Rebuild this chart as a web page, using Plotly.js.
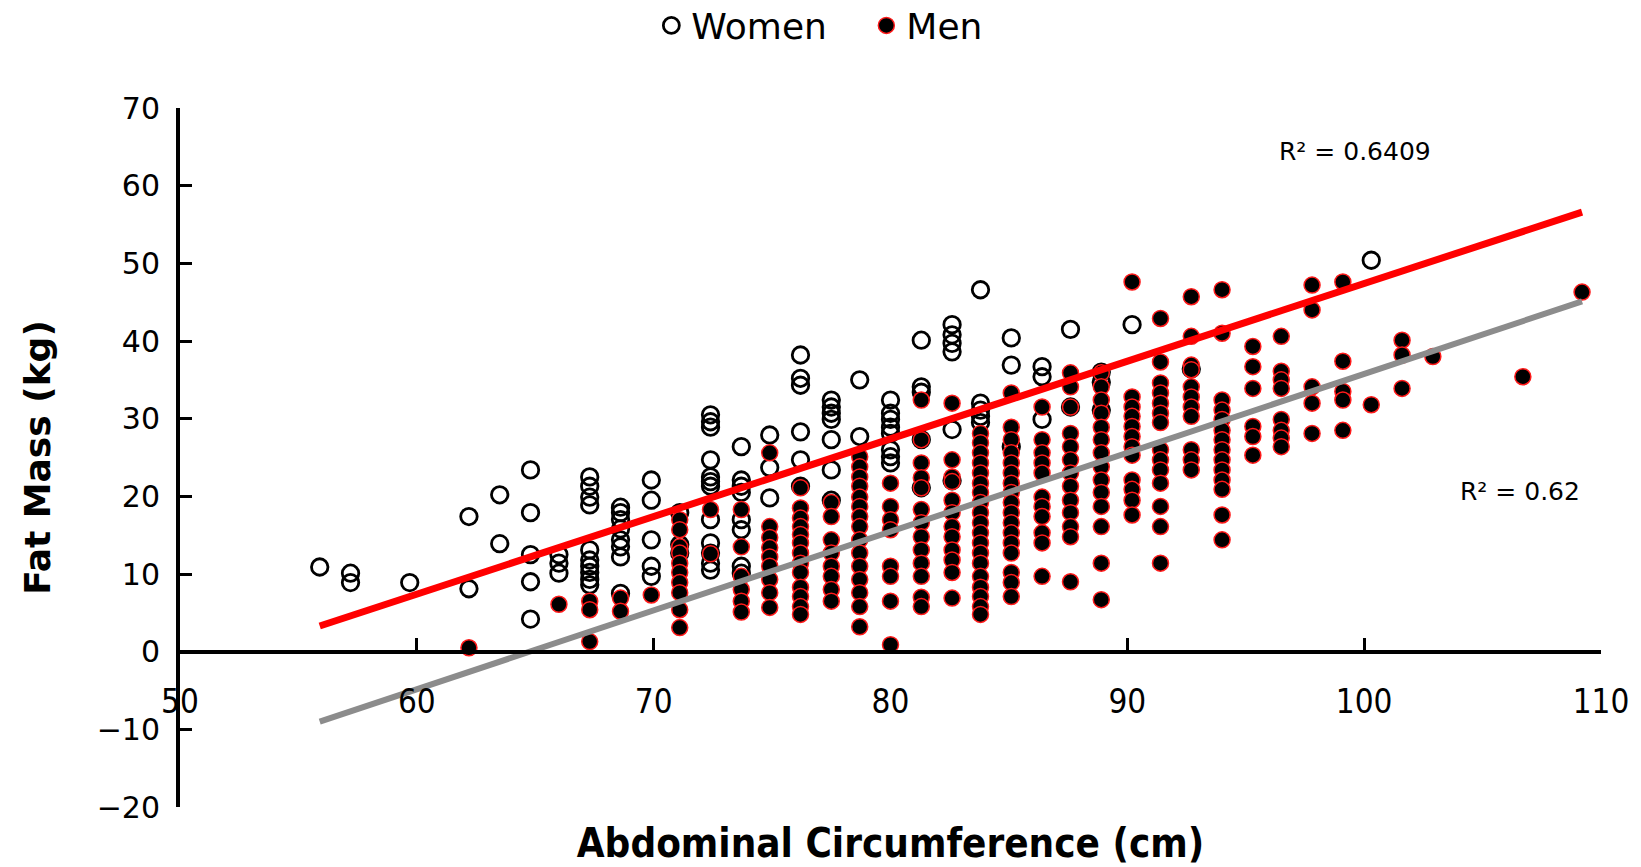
<!DOCTYPE html>
<html>
<head>
<meta charset="utf-8">
<script src="https://cdn.plot.ly/plotly-3.0.1.min.js"></script>
<style>
  html, body { margin: 0; padding: 0; background: #ffffff; }
  #chart { width: 1641px; height: 867px; }
</style>
</head>
<body>
<div id="chart"></div>
<script>
// Waist columns (cm) and fat mass readings (kg) for each column
const womenWaist = [55.9, 57.2, 59.7, 62.2, 63.5, 64.8, 66.0, 67.3, 68.6, 69.9, 71.1, 72.4, 73.7, 74.9,
  76.2, 77.5, 78.7, 80.0, 81.3, 82.6, 83.8, 85.1, 86.4, 87.6, 88.9, 90.2, 92.7, 100.3];
const womenFat = [
  [10.9],
  [10.1, 8.9],
  [8.9],
  [17.4, 8.1],
  [20.2, 13.9],
  [23.4, 17.9, 12.5, 9.0, 4.2],
  [12.5, 11.4, 10.1],
  [22.5, 21.3, 19.9, 18.9, 13.1, 11.8, 11.0, 10.2, 9.3, 8.6],
  [18.6, 17.9, 17.0, 15.8, 14.4, 13.5, 12.2, 7.5],
  [22.1, 19.5, 14.4, 11.0, 9.7],
  [17.9, 13.8, 12.7],
  [30.5, 29.6, 28.9, 24.7, 22.5, 21.9, 21.3, 17.0, 14.0, 12.7, 11.4, 10.5],
  [26.4, 22.1, 21.3, 20.5, 17.0, 15.7, 11.0, 10.1],
  [27.9, 23.7, 19.8],
  [38.2, 35.2, 34.3, 28.3, 24.7, 21.3],
  [32.4, 31.5, 30.7, 29.9, 27.3, 23.4, 19.5],
  [35.0, 27.7],
  [32.4, 30.7, 29.9, 28.9, 28.1, 26.0, 25.1, 24.3],
  [40.1, 34.1, 33.4, 27.3, 21.1],
  [42.1, 40.8, 39.7, 38.6, 28.6, 22.0],
  [46.6, 32.0, 31.1, 30.3, 29.5],
  [40.4, 36.9, 26.4],
  [36.7, 35.4, 29.9],
  [41.5, 31.5],
  [36.0, 34.7, 31.1],
  [42.1],
  [36.4],
  [50.4]
];

const menWaist = [62.2, 66.0, 67.3, 68.6, 69.9, 71.1, 72.4, 73.7, 74.9, 76.2, 77.5, 78.7, 80.0, 81.3,
  82.6, 83.8, 85.1, 86.4, 87.6, 88.9, 90.2, 91.4, 92.7, 94.0, 95.3, 96.5, 97.8, 99.1, 100.3,
  101.6, 102.9, 106.7, 109.2];
const menFat = [
  [0.5],
  [6.1],
  [6.5, 5.4, 1.3],
  [6.9, 5.2],
  [7.3],
  [17.0, 15.7, 13.5, 12.7, 11.4, 10.2, 8.9, 7.6, 5.4, 3.1],
  [18.3, 12.6],
  [18.3, 13.5, 9.7, 8.0, 6.5, 5.1],
  [25.6, 16.1, 14.7, 13.4, 12.2, 11.0, 9.3, 7.6, 5.7],
  [21.1, 18.5, 17.2, 16.1, 15.1, 14.0, 12.7, 11.4, 10.2, 8.3, 7.1, 5.8, 4.8],
  [19.2, 17.4, 14.4, 12.7, 11.0, 9.7, 8.0, 6.5],
  [25.1, 23.8, 22.5, 21.3, 19.9, 18.7, 17.4, 16.1, 14.4, 12.7, 11.0, 9.3, 7.6, 5.8, 3.2],
  [21.7, 18.7, 17.0, 15.7, 11.0, 9.7, 6.5, 0.9],
  [32.4, 27.3, 24.3, 22.4, 21.1, 18.3, 16.6, 14.8, 13.1, 11.4, 9.7, 7.0, 5.8],
  [32.0, 24.7, 22.5, 21.9, 19.5, 17.9, 16.1, 14.8, 13.1, 11.8, 10.2, 6.9],
  [28.1, 26.9, 25.6, 24.3, 23.0, 21.7, 20.5, 19.2, 17.9, 16.6, 15.3, 14.0, 12.7, 11.4, 9.7, 8.3, 7.1, 5.8, 4.8],
  [33.3, 28.9, 27.3, 25.6, 24.3, 23.0, 21.7, 20.5, 19.2, 17.9, 16.6, 15.3, 14.0, 12.7, 10.2, 8.9, 7.1],
  [31.5, 27.3, 25.6, 24.3, 23.0, 19.9, 18.7, 17.4, 15.3, 14.0, 9.7],
  [35.9, 34.1, 31.5, 28.1, 26.4, 24.7, 23.0, 21.3, 19.5, 17.9, 16.1, 14.8, 9.0],
  [35.9, 34.1, 32.4, 30.7, 28.9, 27.3, 25.6, 23.8, 22.1, 20.5, 18.7, 16.1, 11.4, 6.7],
  [47.6, 32.8, 31.5, 30.3, 29.0, 27.7, 26.4, 25.3, 22.1, 20.9, 19.5, 17.6],
  [42.9, 37.3, 34.6, 33.3, 32.0, 30.7, 29.5, 26.0, 24.7, 23.4, 21.7, 18.7, 16.1, 11.4],
  [45.7, 40.6, 36.9, 36.3, 34.1, 32.8, 31.5, 30.3, 26.0, 24.7, 23.4],
  [46.6, 41.0, 32.4, 31.1, 29.9, 28.5, 27.3, 26.0, 24.7, 23.4, 22.1, 20.9, 17.6, 14.4],
  [39.3, 36.7, 33.9, 29.0, 27.7, 25.3],
  [40.6, 36.1, 35.0, 33.9, 29.9, 28.5, 27.5, 26.4],
  [47.2, 44.0, 34.1, 32.0, 28.1],
  [47.6, 37.4, 33.5, 32.4, 28.5],
  [31.8],
  [40.1, 38.2, 33.9],
  [38.0],
  [35.4],
  [46.3]
];

// Linear trend lines (end points over the observed waist range)
const trendWaist = [55.9, 109.2];
const womenTrendFat = [3.3, 56.6];
const menTrendFat = [-9.0, 45.1];

const womenR2 = 'R² = 0.6409';
const menR2 = 'R² = 0.62';

// Expand column lists into flat x / y pairs
function flatten(cols, vals) {
  const x = [], y = [];
  cols.forEach((c, i) => vals[i].forEach(v => { x.push(c); y.push(v); }));
  return { x, y };
}
const women = flatten(womenWaist, womenFat);
const men = flatten(menWaist, menFat);

const traces = [
  {
    type: 'scatter', mode: 'markers', name: 'Women',
    x: women.x, y: women.y,
    marker: { symbol: 'circle-open', size: 16.5, color: '#000000', line: { width: 2.8, color: '#000000' } }
  },
  {
    type: 'scatter', mode: 'markers', name: 'Men',
    x: men.x, y: men.y,
    marker: { symbol: 'circle', size: 16, color: '#000000', line: { width: 1.5, color: '#ff1a1a' } }
  },
  {
    type: 'scatter', mode: 'lines', name: 'Women trend', showlegend: false,
    x: trendWaist, y: womenTrendFat,
    line: { color: '#ff0000', width: 7 }
  },
  {
    type: 'scatter', mode: 'lines', name: 'Men trend', showlegend: false,
    x: trendWaist, y: menTrendFat,
    line: { color: '#8c8c8c', width: 6 }
  }
];

const layout = {
  width: 1641, height: 867,
  margin: { l: 180, r: 40, t: 108, b: 60, autoexpand: false },
  paper_bgcolor: '#ffffff', plot_bgcolor: '#ffffff',
  showlegend: true,
  legend: {
    orientation: 'h', x: 0.483, xanchor: 'center', y: 1.118, yanchor: 'middle',
    font: { family: 'DejaVu Sans', size: 36, color: '#000000' },
    itemsizing: 'trace', itemwidth: 30, tracegroupgap: 0,
    entrywidth: 170, entrywidthmode: 'pixels'
  },
  xaxis: {
    range: [50, 110], dtick: 10, tick0: 50,
    anchor: 'free', position: 20 / 90,
    showline: true, linecolor: '#000000', linewidth: 4,
    ticks: 'inside', ticklen: 12, tickwidth: 3, tickcolor: '#000000',
    showgrid: false, zeroline: false,
    tickfont: { family: 'DejaVu Sans Condensed', size: 33, color: '#000000' },
    ticklabelstandoff: 20,
    title: {
      text: 'Abdominal Circumference (cm)',
      font: { family: 'DejaVu Sans Condensed', size: 40, weight: 'bold', color: '#000000' },
      standoff: 108
    }
  },
  yaxis: {
    range: [-20, 70], dtick: 10, tick0: 0,
    showline: true, linecolor: '#000000', linewidth: 4,
    ticks: 'inside', ticklen: 12, tickwidth: 3, tickcolor: '#000000',
    showgrid: false, zeroline: false,
    tickfont: { family: 'DejaVu Sans', size: 30, color: '#000000' },
    ticklabelstandoff: 10,
    title: {
      text: 'Fat Mass (kg)',
      font: { family: 'DejaVu Sans', size: 36, weight: 'bold', color: '#000000' },
      standoff: 36
    }
  },
  annotations: [
    { x: 99.6, y: 64.4, xref: 'x', yref: 'y', text: womenR2, showarrow: false,
      font: { family: 'DejaVu Sans', size: 25, color: '#000000' } },
    { x: 106.6, y: 20.6, xref: 'x', yref: 'y', text: menR2, showarrow: false,
      font: { family: 'DejaVu Sans', size: 25, color: '#000000' } }
  ]
};

Plotly.newPlot('chart', traces, layout, { staticPlot: true, displayModeBar: false });
</script>
</body>
</html>
